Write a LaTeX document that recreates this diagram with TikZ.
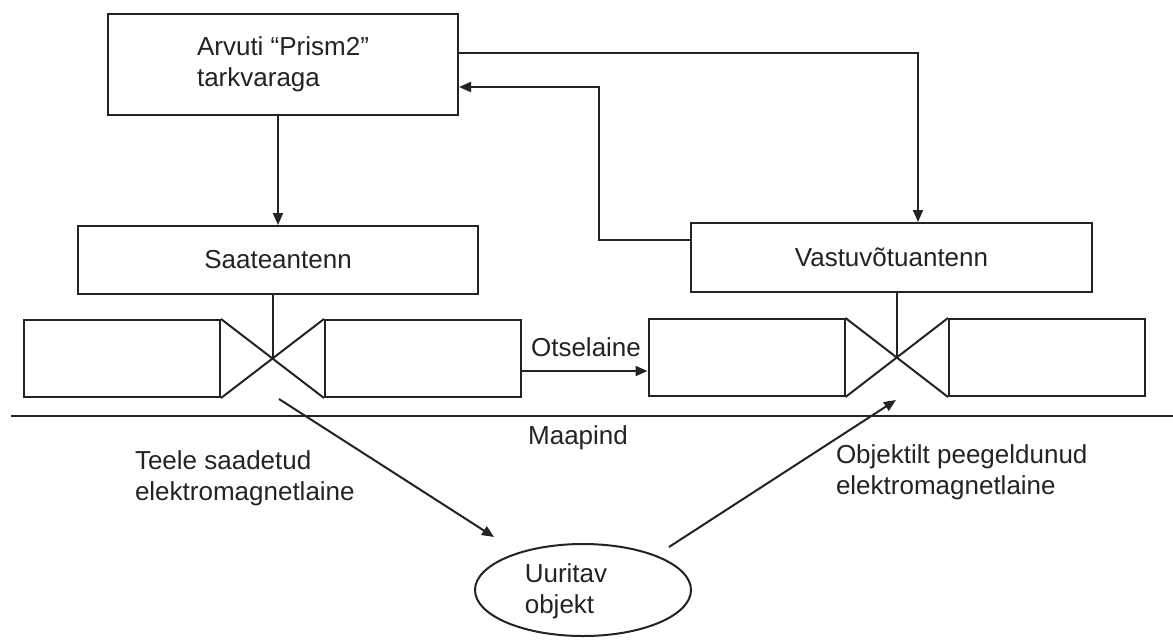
\documentclass[tikz,border=0pt]{standalone}
\usepackage{fontspec}
\setmainfont{Liberation Sans}
\usepackage{xcolor}
\usetikzlibrary{shapes, arrows.meta, calc}

\definecolor{ink}{RGB}{35,35,35}

\begin{document}
\begin{tikzpicture}[x=0.5pt,y=0.5pt,yscale=-1,xscale=1,
    line width=1pt, color=ink,
    every node/.style={font=\fontsize{13}{15.5}\selectfont, text=ink},
    box/.style={draw=ink, line width=1pt, rectangle, inner sep=0pt},
    dip/.style={box, minimum width=98pt, minimum height=38.5pt},
    txt/.style={inner sep=0pt, align=left},
    arr/.style={-{Triangle[length=6pt,width=5pt]}}]
    \useasboundingbox (0,0) rectangle (1173,639);

    %Rect [computer]
    \node (pc) at (283,64.5) [box, minimum width=175pt, minimum height=50.5pt, align=left] {Arvuti “Prism2”\\tarkvaraga};
    %Rect [antennas]
    \node (tx) at (278,260) [box, minimum width=200pt, minimum height=34pt] {Saateantenn};
    \node (rx) at (891.5,257.5) [box, minimum width=200.5pt, minimum height=34.5pt] {Vastuvõtuantenn};

    %Dipole left
    \node (txl) at (122,358.5) [dip] {};
    \node (txr) at (423,358.5) [dip] {};
    \draw (txl.north east) -- (txr.south west) (txl.south east) -- (txr.north west);
    \coordinate (txc) at ($(txl.east)!0.5!(txr.west)$);
    \draw (tx.south -| txc) -- (txc);
    %Dipole right
    \node (rxl) at (746.5,357.5) [dip] {};
    \node (rxr) at (1047,357.5) [dip] {};
    \draw (rxl.north east) -- (rxr.south west) (rxl.south east) -- (rxr.north west);
    \coordinate (rxc) at ($(rxl.east)!0.5!(rxr.west)$);
    \draw (rx.south -| rxc) -- (rxc);

    %Ground
    \coordinate (gl) at (11,416);
    \coordinate (gr) at (1173,416);
    \draw (gl) -- (gr);

    %Object
    \node (obj) at (583,590) [draw, ellipse, minimum width=108pt, minimum height=46pt] {};

    % Text Node
    \node (objlbl) at (566,591) [txt] {Uuritav\\objekt};
    % Text Node
    \node (otslbl) at (586,347) [txt] {Otselaine};
    % Text Node
    \node (maalbl) at (578,438) [txt] {Maapind};
    % Text Node
    \node (sendlbl) at (134,478) [txt, anchor=west] {Teele saadetud\\elektromagnetlaine};
    % Text Node
    \node (echolbl) at (835,472.5) [txt, anchor=west] {Objektilt peegeldunud\\elektromagnetlaine};

    % Connection
    \draw [arr] (tx.north |- pc.south) -- (tx.north);
    % Connection
    \draw [arr] ([yshift=-5.75pt]pc.east) -| ([xshift=13.25pt]rx.north);
    % Connection
    \coordinate (back) at (599,87);
    \draw [arr] ([yshift=-8.75pt]rx.west) -| (back) -- (back -| pc.east);
    % Connection
    \draw [arr] ([yshift=6.25pt]txr.east) coordinate (ots) -- (ots -| rxl.west);
    % Connection
    \coordinate (sendbeg) at (279,399);
    \coordinate (sendend) at (494,537);
    \draw [arr] (sendbeg) -- (sendend);
    % Connection
    \coordinate (echobeg) at (669,547);
    \coordinate (echoend) at (896,400);
    \draw [arr] (echobeg) -- (echoend);

\end{tikzpicture}
\end{document}
